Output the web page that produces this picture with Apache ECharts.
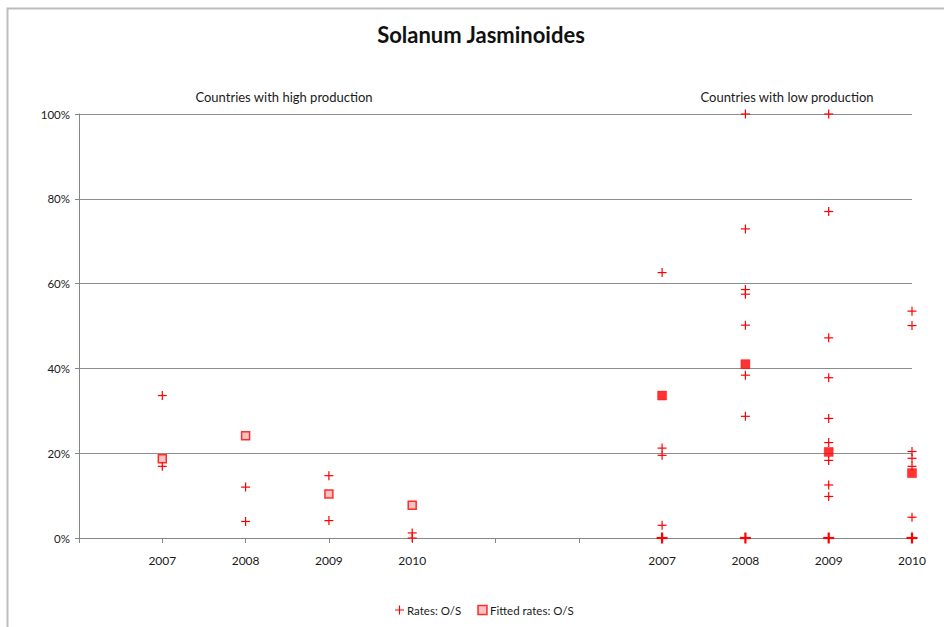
<!DOCTYPE html>
<html><head><meta charset="utf-8">
<script src="https://cdn.jsdelivr.net/npm/echarts@6/dist/echarts.min.js"></script>
<style>html,body{margin:0;padding:0;background:#fff}#c{width:944px;height:627px}</style>
</head><body><div id="c"></div>
<script>
// ---- data ----
const categories = ['', '2007', '2008', '2009', '2010', '', '', '2007', '2008', '2009', '2010'];
const yTicks = [0, 20, 40, 60, 80, 100];
// high production group: category indices 1..4
const highRates = [
  [33.6, 16.9],
  [12.0, 3.9],
  [14.7, 4.1],
  [1.2, 0]
];
const highFitted = [18.7, 24.1, 10.4, 7.7];
// low production group: category indices 7..10
const lowRates = [
  [62.6, 21.2, 19.5, 3.0, 0],
  [100, 72.9, 58.6, 57.5, 50.2, 38.4, 28.7, 0],
  [100, 77.0, 47.2, 37.8, 28.2, 22.5, 18.3, 12.5, 9.8, 0],
  [53.5, 50.1, 20.4, 18.8, 16.9, 4.9, 0]
];
const lowFitted = [33.6, 41.0, 20.3, 15.3];
const highStart = 1, lowStart = 7;

// ---- build ----
const RED = '#ff0000';
const PINK = '#f7b3b3';
const PLUS_ICON = 'path://M0,4.35H10V5.65H0Z M4.35,0H5.65V10H4.35Z';

// [category index, value, isOverlapCluster]
const rateData = [];
highRates.forEach((vals, i) => vals.forEach(v => rateData.push([highStart + i, v, 0])));
lowRates.forEach((vals, i) => vals.forEach(v => rateData.push([lowStart + i, v, v === 0 ? 1 : 0])));

const fittedData = [];
highFitted.forEach((v, i) => fittedData.push({
  value: [highStart + i, v], symbolSize: 8,
  itemStyle: { color: PINK, borderColor: RED, borderWidth: 1.5 }
}));
lowFitted.forEach((v, i) => fittedData.push({
  value: [lowStart + i, v], symbolSize: 9,
  itemStyle: { color: RED, borderColor: RED, borderWidth: 0.5 }
}));

function renderPlus(params, api) {
  const p = api.coord([api.value(0), api.value(1)]);
  const bold = api.value(2) === 1;
  const s = bold ? 5.5 : 4.5;
  const lw = bold ? 2.2 : 1.2;
  const x = p[0], y = p[1];
  return {
    type: 'group',
    children: [
      { type: 'line', shape: { x1: x - s, y1: y, x2: x + s, y2: y },
        style: { stroke: RED, lineWidth: lw, fill: null } },
      { type: 'line', shape: { x1: x, y1: y - s, x2: x, y2: y + s },
        style: { stroke: RED, lineWidth: lw, fill: null } }
    ]
  };
}

const FONT = 'Lato, "Open Sans", sans-serif';
const chart = echarts.init(document.getElementById('c'), null, { renderer: 'svg' });
chart.setOption({
  animation: false,
  backgroundColor: '#fff',
  textStyle: { fontFamily: FONT },
  grid: { left: 79, right: 32, top: 114, bottom: 89, containLabel: false },
  xAxis: {
    type: 'category', data: categories, boundaryGap: false,
    axisLine: { lineStyle: { color: '#868686', width: 1 } },
    axisTick: { show: true, length: 5, inside: false, lineStyle: { color: '#868686' }, interval: 0 },
    axisLabel: { interval: 0, margin: 16, fontSize: 12, color: '#1a1a1a', fontFamily: FONT },
    splitLine: { show: false }
  },
  yAxis: {
    type: 'value', min: yTicks[0], max: yTicks[yTicks.length - 1], interval: 20,
    axisLine: { show: true, lineStyle: { color: '#868686', width: 1 } },
    axisTick: { show: true, length: 4, lineStyle: { color: '#868686' } },
    axisLabel: { formatter: '{value}%', fontSize: 11.5, margin: 9, color: '#1a1a1a', fontFamily: FONT },
    splitLine: { show: true, lineStyle: { color: '#8c8c8c', width: 1 } }
  },
  legend: {
    left: 390, top: 599, itemWidth: 9, itemHeight: 9, itemGap: 16,
    textStyle: { fontSize: 11.5, color: '#1a1a1a', fontFamily: FONT, padding: [0, 0, 0, -2] },
    data: [
      { name: 'Rates: O/S', icon: PLUS_ICON, itemStyle: { color: RED, borderWidth: 0 } },
      { name: 'Fitted rates: O/S', icon: 'rect', itemStyle: { color: PINK, borderColor: RED, borderWidth: 1.5 } }
    ]
  },
  graphic: [
    { type: 'rect', silent: true, shape: { x: 7.5, y: 8.5, width: 2000, height: 2000 },
      style: { fill: 'none', stroke: '#bdbdbd', lineWidth: 2 } },
    { type: 'text', x: 481, y: 34, silent: true,
      style: { text: 'Solanum Jasminoides', font: 'bold 22px ' + FONT, fill: '#111', textAlign: 'center', textVerticalAlign: 'middle' } },
    { type: 'text', x: 284, y: 97, silent: true,
      style: { text: 'Countries with high production', font: '13px ' + FONT, fill: '#1a1a1a', textAlign: 'center', textVerticalAlign: 'middle' } },
    { type: 'text', x: 787, y: 97, silent: true,
      style: { text: 'Countries with low production', font: '13px ' + FONT, fill: '#1a1a1a', textAlign: 'center', textVerticalAlign: 'middle' } }
  ],
  series: [
    { name: 'Rates: O/S', type: 'custom', renderItem: renderPlus,
      encode: { x: 0, y: 1 }, itemStyle: { color: RED }, data: rateData, z: 3 },
    { name: 'Fitted rates: O/S', type: 'scatter', symbol: 'rect', symbolSize: 8,
      itemStyle: { color: PINK, borderColor: RED, borderWidth: 1.5 }, data: fittedData, z: 4 }
  ]
});
</script></body></html>
